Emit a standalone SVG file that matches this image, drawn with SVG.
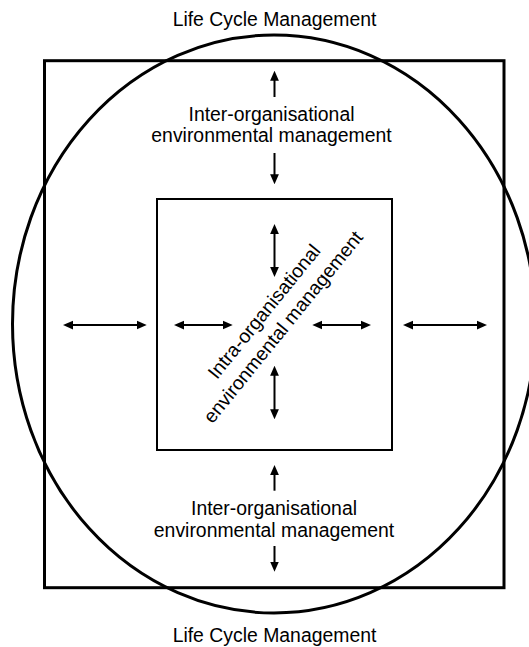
<svg xmlns="http://www.w3.org/2000/svg" width="529" height="647" viewBox="0 0 529 647">
<style>
  .lbl { font-family: "Liberation Sans", Arial, sans-serif; font-size: 19.4px; fill: #000; text-anchor: middle; }
  .arr { stroke: #000; stroke-width: 2; fill: none; }
  .two { marker-start: url(#ah); marker-end: url(#ah); }
  .one { marker-end: url(#ah); }
</style>
<defs>
  <marker id="ah" markerUnits="userSpaceOnUse" markerWidth="10" markerHeight="10" viewBox="0 0 8 7" refX="4" refY="3.5" orient="auto-start-reverse">
    <path d="M0,0 L8,3.5 L0,7 z" fill="#000"/>
  </marker>
</defs>
<rect width="529" height="647" fill="#fff"/>
<g id="life-cycle">
  <ellipse cx="274" cy="324" rx="261.5" ry="289" fill="none" stroke="#000" stroke-width="3"/>
  <text class="lbl" x="274.5" y="25.5">Life Cycle Management</text>
  <text class="lbl" x="274.5" y="642">Life Cycle Management</text>
</g>
<g id="inter-org">
  <rect x="44.5" y="60.7" width="459.5" height="527" fill="none" stroke="#000" stroke-width="3"/>
  <text class="lbl" x="271.5" y="120.7">Inter-organisational</text>
  <text class="lbl" x="271.5" y="142.3">environmental management</text>
  <text class="lbl" x="274" y="515">Inter-organisational</text>
  <text class="lbl" x="274" y="537">environmental management</text>
</g>
<g id="intra-org">
  <rect x="157" y="199" width="235" height="251" fill="none" stroke="#000" stroke-width="2"/>
  <g transform="translate(275 320.4) rotate(-51)">
    <text class="lbl" x="0" y="-7.5">Intra-organisational</text>
    <text class="lbl" x="0" y="17">environmental management</text>
  </g>
</g>
<g id="connectors">
  <line class="arr one" x1="274.5" y1="97" x2="274.5" y2="75.7"/>
  <line class="arr one" x1="274.5" y1="153" x2="274.5" y2="179.3"/>
  <line class="arr two" x1="274.5" y1="229" x2="274.5" y2="272"/>
  <line class="arr two" x1="274.5" y1="370.7" x2="274.5" y2="414.3"/>
  <line class="arr one" x1="274.5" y1="490.7" x2="274.5" y2="470"/>
  <line class="arr one" x1="274.5" y1="546" x2="274.5" y2="566.7"/>
  <line class="arr two" x1="68" y1="325" x2="141.7" y2="325"/>
  <line class="arr two" x1="179" y1="325" x2="227.7" y2="325"/>
  <line class="arr two" x1="317.3" y1="325" x2="366" y2="325"/>
  <line class="arr two" x1="408" y1="325" x2="482" y2="325"/>
</g>
</svg>
